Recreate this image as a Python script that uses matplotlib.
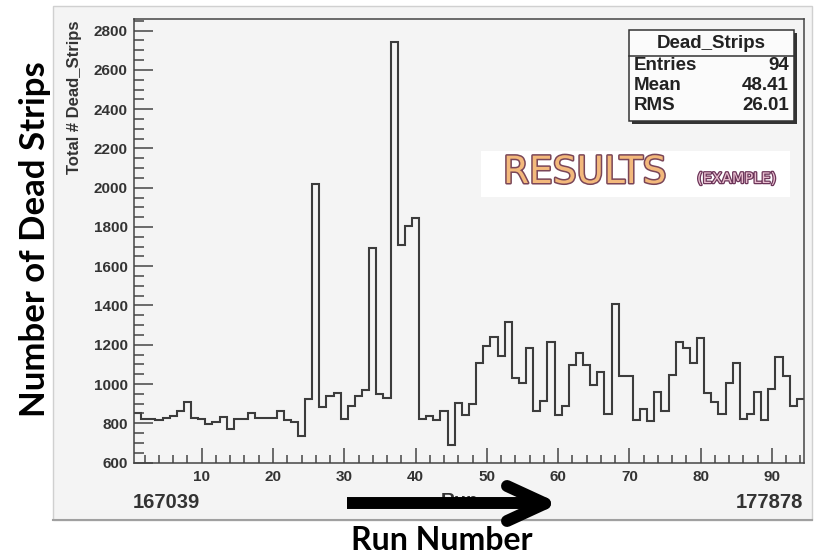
import numpy as np
import matplotlib
matplotlib.use("Agg")
import matplotlib.pyplot as plt
import matplotlib.patches as patches
import matplotlib.patheffects as pe
from matplotlib.lines import Line2D
from matplotlib.ticker import MultipleLocator

# dead strips per run (bin 1..94)
dead_strips = [850, 822, 822, 817, 828, 837, 864, 910, 828, 822,
               798, 805, 833, 769, 822, 822, 854, 828, 828, 828,
               860, 818, 808, 733, 924, 2018, 885, 941, 953, 823,
               890, 941, 970, 1693, 950, 928, 2744, 1710, 1806, 1848,
               823, 835, 816, 860, 691, 902, 842, 899, 1108, 1195,
               1240, 1144, 1316, 1029, 1004, 1183, 860, 911, 1215, 843,
               890, 1097, 1156, 1097, 995, 1060, 848, 1409, 1041, 1041,
               815, 872, 810, 958, 860, 1046, 1215, 1181, 1108, 1232,
               953, 906, 848, 1004, 1108, 823, 848, 958, 815, 975,
               1139, 1041, 886, 923]
first_run = "167039"
last_run = "177878"
stat_names = ["Entries", "Mean", "RMS"]
stat_values = ["94", "48.41", "26.01"]

W, H = 819, 559
fig = plt.figure(figsize=(W / 100, H / 100), dpi=100, facecolor="white")


def fx(px):
    return px / W


def fy(py):
    return 1 - py / H


root_font = "Liberation Sans"
grey_txt = "#333333"

# ROOT canvas background
fig.patches.append(patches.Rectangle((fx(53), fy(520)), (812 - 53) / W, (520 - 6) / H,
                                     transform=fig.transFigure, facecolor="#f4f4f4",
                                     edgecolor="#d0d0d0", lw=1, zorder=-2))
fig.lines.append(Line2D([fx(53), fx(812)], [fy(520), fy(520)], transform=fig.transFigure,
                        color="#a0a0a0", lw=1.5, zorder=-1))

ax = fig.add_axes([fx(134), fy(463.3), (804 - 134) / W, (463.3 - 19.3) / H])
ax.set_facecolor("#f4f4f4")

edges = np.arange(0.5, len(dead_strips) + 1, 1.0)
ax.stairs(dead_strips, edges, color="#3c3c3c", lw=1.5, baseline=None)

ax.set_xlim(0.5, 94.5)
ax.set_ylim(596, 2858)
ax.set_xticks(range(10, 91, 10))
ax.set_yticks(range(600, 2801, 200))
ax.xaxis.set_minor_locator(MultipleLocator(2))
ax.yaxis.set_minor_locator(MultipleLocator(50))
ax.tick_params(axis="both", which="both", direction="in", color="#444444", width=1.1,
               labelcolor=grey_txt)
ax.tick_params(axis="y", which="major", length=13.5, pad=4.5)
ax.tick_params(axis="y", which="minor", length=7)
ax.tick_params(axis="x", which="major", length=10.5, pad=4.5)
ax.tick_params(axis="x", which="minor", length=5.5)
for lab in ax.get_xticklabels() + ax.get_yticklabels():
    lab.set_fontfamily(root_font)
    lab.set_fontweight("bold")
    lab.set_fontsize(11)
for s in ax.spines.values():
    s.set_color("#444444")
    s.set_linewidth(1.1)

# ROOT axis titles
fig.text(fx(75), fy(20), "Total # Dead_Strips", rotation=90, ha="center", va="top",
         fontsize=12, fontweight="bold", family=root_font, color=grey_txt)
fig.text(fx(460), fy(501), "Run", ha="center", va="center", fontsize=14,
         fontweight="bold", family=root_font, color=grey_txt)
fig.text(fx(133), fy(502), first_run, ha="left", va="center", fontsize=14.5,
         fontweight="bold", family=root_font, color=grey_txt)
fig.text(fx(803), fy(502), last_run, ha="right", va="center", fontsize=14.5,
         fontweight="bold", family=root_font, color=grey_txt)

# stats box
bx0, by0, bx1, by1 = 629, 30, 794, 121
fig.patches.append(patches.Rectangle((fx(bx0 + 3), fy(by1 + 3)), (bx1 - bx0) / W, (by1 - by0) / H,
                                     transform=fig.transFigure, facecolor="#333333",
                                     edgecolor="none", zorder=4))
fig.patches.append(patches.Rectangle((fx(bx0), fy(by1)), (bx1 - bx0) / W, (by1 - by0) / H,
                                     transform=fig.transFigure, facecolor="#fbfbfb",
                                     edgecolor="#333333", lw=1.1, zorder=5))
fig.lines.append(Line2D([fx(bx0), fx(bx1)], [fy(56), fy(56)], transform=fig.transFigure,
                        color="#333333", lw=1.1, zorder=6))
fig.text(fx((bx0 + bx1) / 2), fy(43), "Dead_Strips", ha="center", va="center", fontsize=13.5,
         fontweight="bold", family=root_font, color="#222222", zorder=7)
for i, (name, val) in enumerate(zip(stat_names, stat_values)):
    yy = 66 + i * 19.5
    fig.text(fx(634), fy(yy), name, ha="left", va="center", fontsize=13.5,
             fontweight="bold", family=root_font, color="#222222", zorder=7)
    fig.text(fx(789), fy(yy), val, ha="right", va="center", fontsize=13.5,
             fontweight="bold", family=root_font, color="#222222", zorder=7)

# "RESULTS (EXAMPLE)" banner
fig.patches.append(patches.Rectangle((fx(481), fy(197)), (790 - 481) / W, (197 - 151) / H,
                                     transform=fig.transFigure, facecolor="white",
                                     edgecolor="none", zorder=5))
fig.text(fx(503), fy(183), "RESULTS", ha="left", va="baseline", fontsize=27,
         family="DejaVu Sans", color="#f3b97c", zorder=7,
         path_effects=[pe.withStroke(linewidth=2.2, foreground="#7a4658")])
fig.text(fx(697), fy(183), "(EXAMPLE)", ha="left", va="baseline", fontsize=10.5,
         family="DejaVu Sans", color="#e9bfd0", zorder=7,
         path_effects=[pe.withStroke(linewidth=1.8, foreground="#6b3458")])

# hand-drawn annotations
fig.text(fx(35), fy(239), "Number of Dead Strips", rotation=90, ha="center", va="center",
         fontsize=25, fontweight="bold", family="Lato", color="black")
fig.text(fx(442), fy(541), "Run Number", ha="center", va="center",
         fontsize=23, fontweight="bold", family="Lato", color="black")

fig.lines.append(Line2D([fx(347), fx(540)], [fy(503), fy(503)], transform=fig.transFigure,
                        color="black", lw=8.6, solid_capstyle="butt", zorder=10))
for y_end in (486, 521):
    fig.lines.append(Line2D([fx(507), fx(545)], [fy(y_end), fy(503.5)], transform=fig.transFigure,
                            color="black", lw=8.6, solid_capstyle="round", zorder=10))

fig.savefig("out.png", dpi=100)
